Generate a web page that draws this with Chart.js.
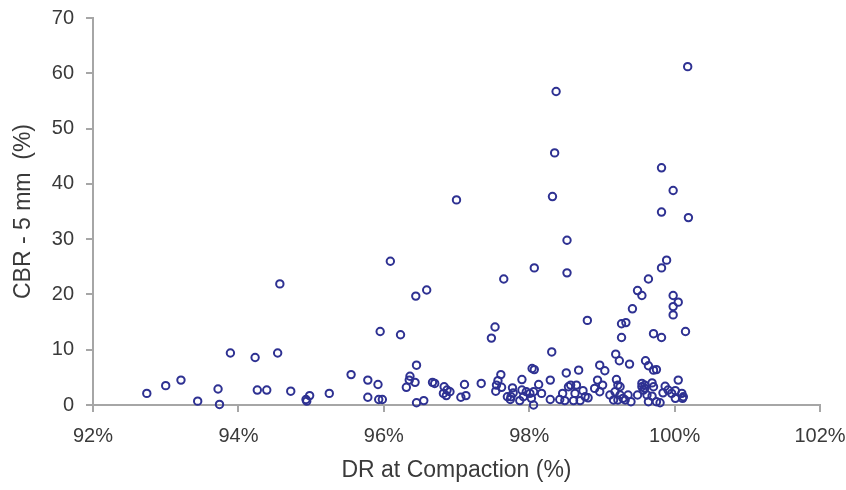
<!DOCTYPE html>
<html>
<head>
<meta charset="utf-8">
<script src="https://cdn.jsdelivr.net/npm/chart.js@4"></script>
<style>
  html, body { margin: 0; padding: 0; background: #fff; }
  #wrap { width: 846px; height: 490px; }
</style>
</head>
<body>
<div id="wrap"><canvas id="chart" width="846" height="490"></canvas></div>
<script>
// DR at compaction (%) and CBR - 5 mm (%)
const drCompaction = [
  92.74, 93.00, 93.21, 93.44, 93.72, 93.74, 93.89, 94.23, 94.26, 94.39,
  94.54, 94.57, 94.72, 94.93, 94.94, 94.98, 95.25, 95.55, 95.78, 95.92,
  95.78, 95.93, 95.98, 95.95, 96.09, 96.23, 96.44, 96.59, 96.45, 96.36,
  96.35, 96.43, 96.31, 96.45, 96.55, 96.67, 96.70, 96.83, 96.87, 96.91,
  96.82, 96.86, 97.00, 97.06, 97.13, 97.11, 97.34, 97.48, 97.53, 97.65,
  97.61, 97.57, 97.55, 97.62, 97.54, 97.70, 97.77, 97.78, 97.74, 97.75,
  97.87, 97.90, 97.90, 97.96, 97.92, 98.01, 98.06, 98.03, 98.06, 98.04,
  98.07, 98.07, 98.13, 98.17, 98.29, 98.29, 98.31, 98.32, 98.35, 98.37,
  98.42, 98.46, 98.49, 98.51, 98.52, 98.52, 98.54, 98.57, 98.61, 98.63,
  98.65, 98.68, 98.70, 98.74, 98.77, 98.80, 98.81, 98.90, 98.94, 98.97,
  98.97, 99.01, 99.04, 99.11, 99.16, 99.18, 99.19, 99.20, 99.22, 99.22,
  99.24, 99.25, 99.25, 99.27, 99.27, 99.29, 99.32, 99.33, 99.36, 99.38,
  99.40, 99.42, 99.49, 99.49, 99.55, 99.55, 99.57, 99.59, 99.60, 99.64,
  99.62, 99.64, 99.55, 99.69, 99.59, 99.71, 99.71, 99.75, 99.69, 99.64,
  99.71, 99.75, 99.80, 99.82, 99.82, 99.82, 99.82, 99.84, 99.87, 99.89,
  99.91, 99.96, 99.98, 99.98, 99.98, 99.98, 100.01, 100.01, 100.05, 100.05,
  100.10, 100.11, 100.12, 100.15, 100.18, 100.19
];
const cbr5mm = [
  2.1, 3.5, 4.5, 0.7, 2.9, 0.1, 9.4, 8.6, 2.7, 2.7,
  9.4, 21.9, 2.5, 1.0, 0.7, 1.7, 2.1, 5.5, 4.5, 3.7,
  1.4, 1.0, 1.0, 13.3, 26.0, 12.7, 19.7, 20.8, 7.2, 5.2,
  4.5, 4.1, 3.2, 0.4, 0.8, 4.1, 3.9, 3.3, 2.7, 2.4,
  2.1, 1.7, 37.1, 1.4, 1.7, 3.7, 3.9, 12.1, 14.1, 22.8,
  5.5, 4.4, 3.6, 3.2, 2.5, 1.5, 3.1, 2.2, 1.0, 1.5,
  0.8, 4.6, 2.7, 2.4, 1.5, 2.1, 2.4, 1.2, 0.0, 6.6,
  6.4, 24.8, 3.7, 2.1, 4.5, 1.0, 9.6, 37.7, 45.6, 56.7,
  1.0, 2.1, 0.8, 5.8, 29.8, 23.9, 3.3, 3.6, 0.8, 2.1,
  3.6, 6.3, 0.8, 2.6, 1.5, 15.3, 1.3, 3.0, 4.5, 7.2,
  2.4, 3.6, 6.2, 1.8, 0.9, 2.4, 9.2, 4.6, 3.6, 0.9,
  8.0, 3.3, 1.8, 12.2, 14.7, 1.2, 0.9, 14.9, 1.8, 7.4,
  0.6, 17.4, 20.7, 1.8, 19.8, 3.3, 2.7, 3.6, 8.0, 7.1,
  1.8, 22.8, 3.9, 4.0, 3.0, 3.3, 6.3, 6.4, 1.6, 0.6,
  12.9, 0.6, 0.4, 12.2, 24.8, 34.9, 42.9, 2.2, 3.4, 26.2,
  2.7, 2.1, 16.3, 17.8, 19.8, 38.8, 2.6, 1.2, 4.5, 18.6,
  2.1, 1.2, 1.5, 13.3, 61.2, 33.9
];
const xTicks = [92, 94, 96, 98, 100, 102];
const yTicks = [0, 10, 20, 30, 40, 50, 60, 70];

const points = drCompaction.map((x, i) => ({ x: x, y: cbr5mm[i] }));
const axisGrey = "#a6a6a6";
const textColor = "#3a3a3a";

new Chart(document.getElementById("chart"), {
  type: "scatter",
  data: {
    datasets: [{
      data: points,
      clip: false,
      pointStyle: "circle",
      pointRadius: 3.7,
      pointBorderWidth: 2,
      pointBorderColor: "#2e3192",
      pointBackgroundColor: "rgba(0,0,0,0)"
    }]
  },
  options: {
    responsive: false,
    animation: false,
    layout: { padding: { top: 18, right: 26, left: 0, bottom: 0 } },
    plugins: { legend: { display: false }, tooltip: { enabled: false } },
    scales: {
      x: {
        type: "linear",
        min: 92,
        max: 102,
        afterBuildTicks: (axis) => { axis.ticks = xTicks.map((v) => ({ value: v })); },
        afterFit: (axis) => {
          axis.height = 85;
          axis.paddingLeft = 0;
          axis.paddingRight = 0;
        },
        grid: { display: true, drawOnChartArea: false, drawTicks: true, tickLength: 7, color: axisGrey, lineWidth: 2 },
        border: { color: axisGrey, width: 2 },
        ticks: {
          color: textColor,
          padding: 12,
          font: { family: "Liberation Sans", size: 20 },
          callback: (v) => v + "%"
        },
        title: {
          display: true,
          text: "DR at Compaction (%)",
          color: textColor,
          padding: { top: 4, bottom: 6 },
          font: { family: "Liberation Sans", size: 23 }
        }
      },
      y: {
        type: "linear",
        min: 0,
        max: 70,
        afterBuildTicks: (axis) => { axis.ticks = yTicks.map((v) => ({ value: v })); },
        afterFit: (axis) => {
          axis.width = 93;
          axis.paddingTop = 0;
          axis.paddingBottom = 0;
        },
        grid: { display: true, drawOnChartArea: false, drawTicks: true, tickLength: 7, color: axisGrey, lineWidth: 2 },
        border: { color: axisGrey, width: 2 },
        ticks: {
          color: textColor,
          padding: 12,
          font: { family: "Liberation Sans", size: 20 }
        },
        title: {
          display: true,
          text: "CBR - 5 mm  (%)",
          color: textColor,
          padding: { top: 10, bottom: 0 },
          font: { family: "Liberation Sans", size: 23 }
        }
      }
    }
  }
});
</script>
</body>
</html>
